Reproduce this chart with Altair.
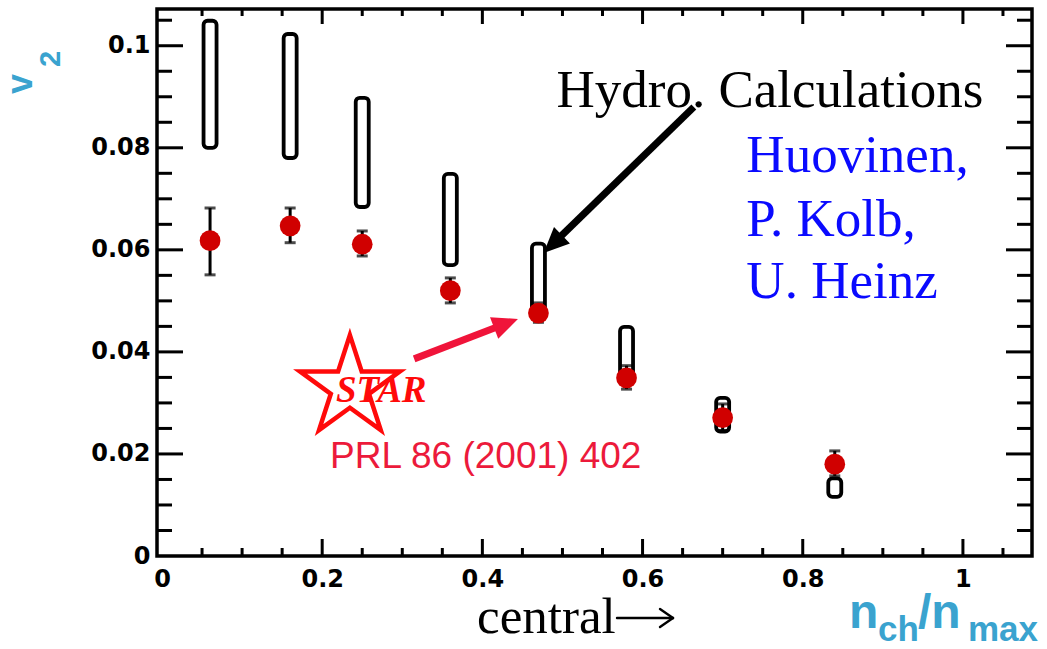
import altair as alt
import pandas as pd

# ---- data ----
centrality = [0.06, 0.16, 0.25, 0.36, 0.47, 0.58, 0.70, 0.84]
v2_star = [0.0618, 0.0647, 0.0611, 0.0520, 0.0476, 0.0349, 0.0271, 0.0180]
v2_err_lo = [0.0551, 0.0614, 0.0588, 0.0496, 0.0458, 0.0327, 0.0246, 0.0157]
v2_err_hi = [0.0682, 0.0682, 0.0637, 0.0545, 0.0496, 0.0373, 0.0298, 0.0206]
hydro_lo = [0.0800, 0.0780, 0.0684, 0.0570, 0.0465, 0.0345, 0.0244, 0.0116]
hydro_hi = [0.1049, 0.1023, 0.0898, 0.0749, 0.0612, 0.0449, 0.0310, 0.0152]

x_major = [0.2, 0.4, 0.6, 0.8, 1.0]
x_minor = [0.05, 0.1, 0.15, 0.25, 0.3, 0.35, 0.45, 0.5, 0.55, 0.65, 0.7, 0.75,
           0.85, 0.9, 0.95, 1.05]
y_major = [0.02, 0.04, 0.06, 0.08, 0.1]
y_minor = [0.005, 0.01, 0.015, 0.025, 0.03, 0.035, 0.045, 0.05, 0.055, 0.065,
           0.07, 0.075, 0.085, 0.09, 0.095, 0.105]
x_labels = [0, 0.2, 0.4, 0.6, 0.8, 1.0]
y_labels = [0, 0.02, 0.04, 0.06, 0.08, 0.1]

W, H = 875, 547
XD = [0, 1.08]
YD = [0, 0.1072]

df = pd.DataFrame({"x": centrality, "v2": v2_star, "lo": v2_err_lo, "hi": v2_err_hi,
                   "hlo": hydro_lo, "hhi": hydro_hi})

xs = alt.Scale(domain=XD, nice=False, zero=False)
ys = alt.Scale(domain=YD, nice=False, zero=False)
X = alt.X("x:Q", scale=xs, axis=alt.Axis(values=x_labels, format=".1~f", domain=False, ticks=False,
                                            grid=False, title=None, labelFont="DejaVu Sans",
                                            labelFontWeight="bold", labelFontSize=24, labelColor="black",
                                            labelPadding=11, labelFlush=False))
Y = alt.Y("v2:Q", scale=ys, axis=alt.Axis(values=y_labels, format=".2~f", domain=False, ticks=False,
                                             grid=False, title=None, labelFont="DejaVu Sans",
                                             labelFontWeight="bold", labelFontSize=24, labelColor="black",
                                             labelPadding=7, labelFlush=False))

base = alt.Chart(df)

boxes = base.mark_bar(size=13, cornerRadius=4, fill="white", stroke="black", strokeWidth=3.8).encode(
    x=X, y=alt.Y("hlo:Q", scale=ys), y2="hhi:Q")
err = base.mark_rule(color="black", strokeWidth=3).encode(
    x=alt.X("x:Q", scale=xs), y=alt.Y("lo:Q", scale=ys), y2="hi:Q")
cap_lo = base.mark_tick(orient="horizontal", size=11, thickness=3, color="black").encode(
    x=alt.X("x:Q", scale=xs), y=alt.Y("lo:Q", scale=ys))
cap_hi = base.mark_tick(orient="horizontal", size=11, thickness=3, color="black").encode(
    x=alt.X("x:Q", scale=xs), y=alt.Y("hi:Q", scale=ys))
dots = base.mark_point(filled=True, size=430, color="#d00000", opacity=1, shape="circle").encode(
    x=alt.X("x:Q", scale=xs), y=Y)

# ---- axis ticks drawn inward ----
def yticks(vals, length):
    d = pd.DataFrame({"t": vals})
    left = alt.Chart(d).mark_rule(color="black", strokeWidth=3).encode(
        y=alt.Y("t:Q", scale=ys), x=alt.value(0), x2=alt.value(length))
    right = alt.Chart(d).mark_rule(color="black", strokeWidth=3).encode(
        y=alt.Y("t:Q", scale=ys), x=alt.value(W), x2=alt.value(W - length))
    return left + right

def xticks(vals, lb, lt):
    d = pd.DataFrame({"t": vals})
    bot = alt.Chart(d).mark_rule(color="black", strokeWidth=3).encode(
        x=alt.X("t:Q", scale=xs), y=alt.value(H), y2=alt.value(H - lb))
    top = alt.Chart(d).mark_rule(color="black", strokeWidth=3).encode(
        x=alt.X("t:Q", scale=xs), y=alt.value(0), y2=alt.value(lt))
    return bot + top

ticks = yticks(y_major, 26) + yticks(y_minor, 15) + xticks(x_major, 17, 15) + xticks(x_minor, 8, 7)

# ---- annotations ----
def txt(x, y, s, **kw):
    return alt.Chart(pd.DataFrame({"x": [x], "y": [y], "s": [s]})).mark_text(**kw).encode(
        x=alt.X("x:Q", scale=xs), y=alt.Y("y:Q", scale=ys), text="s:N")

serif = "Liberation Serif"
blue = "#0a0aff"
hydro_t = txt(0.4926, 0.0880, "Hydro. Calculations", font=serif, fontSize=53, color="black",
              align="left", baseline="alphabetic")
auth1 = txt(0.7296, 0.0753, "Huovinen,", font=serif, fontSize=53, color=blue, align="left", baseline="alphabetic")
auth2 = txt(0.7296, 0.0628, "P. Kolb,", font=serif, fontSize=53, color=blue, align="left", baseline="alphabetic")
auth3 = txt(0.7296, 0.0505, "U. Heinz", font=serif, fontSize=53, color=blue, align="left", baseline="alphabetic")
prl = txt(0.2099, 0.01725, "PRL 86 (2001) 402", font="Liberation Sans", fontSize=37, color="#ec1a3b",
          align="left", baseline="alphabetic")
star_t = txt(0.2173, 0.0302, "STAR", font=serif, fontSize=37, fontStyle="italic", fontWeight="bold",
             color="#ff0a0a", align="left", baseline="alphabetic")

STAR_PATH = ("M0,-1 L0.2245,-0.309 L0.9511,-0.309 L0.3633,0.118 L0.5878,0.809 L0,0.382 "
             "L-0.5878,0.809 L-0.3633,0.118 L-0.9511,-0.309 L-0.2245,-0.309 Z")
star = alt.Chart(pd.DataFrame({"x": [0.2346], "y": [0.0330]})).mark_point(
    shape=STAR_PATH, size=11025, filled=False, stroke="#ff0a0a", strokeWidth=4.5, opacity=1).encode(
    x=alt.X("x:Q", scale=xs), y=alt.Y("y:Q", scale=ys))

HEAD = "M0,0 L0.45,1 L-0.45,1 Z"

def arrow(x1, y1, xb, yb, xt, yt, ang, color):
    line = alt.Chart(pd.DataFrame({"x": [x1], "y": [y1], "x2": [xb], "y2": [yb]})).mark_rule(
        color=color, strokeWidth=7).encode(
        x=alt.X("x:Q", scale=xs), y=alt.Y("y:Q", scale=ys), x2="x2:Q", y2="y2:Q")
    head = alt.Chart(pd.DataFrame({"x": [xt], "y": [yt]})).mark_point(
        shape=HEAD, size=2600, filled=True, color=color, opacity=1, angle=ang, strokeWidth=0).encode(
        x=alt.X("x:Q", scale=xs), y=alt.Y("y:Q", scale=ys))
    return line + head

black_arrow = arrow(0.664, 0.0880, 0.4943, 0.0621, 0.4765, 0.0594, 226, "black")
red_arrow = arrow(0.3148, 0.03863, 0.4191, 0.04494, 0.4444, 0.04647, 69, "#f0143a")

# ---- axis titles as text outside the plot area ----
def ptxt(x, y, s, **kw):
    return alt.Chart(pd.DataFrame({"s": [s]})).mark_text(**kw).encode(
        x=alt.value(x), y=alt.value(y), text="s:N")

def pline(x1, y1, x2, y2, w=2.4):
    return alt.Chart(pd.DataFrame({"s": [0]})).mark_rule(color="black", strokeWidth=w, strokeCap="round").encode(
        x=alt.value(x1 - 157), y=alt.value(y1 - 9), x2=alt.value(x2 - 157), y2=alt.value(y2 - 9))

cyan = "#3aa3cf"
t_v = ptxt(32 - 157, 94 - 9, "v", font="Liberation Sans", fontWeight="bold", fontSize=36, color=cyan,
           angle=270, align="left", baseline="alphabetic")
t_2 = ptxt(60 - 157, 67 - 9, "2", font="Liberation Sans", fontWeight="bold", fontSize=29, color=cyan,
           angle=270, align="left", baseline="alphabetic")
central = ptxt(477 - 157, 633 - 9, "central", font=serif, fontSize=51, color="black",
               align="left", baseline="alphabetic")
c_arrow = pline(617, 618, 673, 618) + pline(673, 618, 660, 609) + pline(673, 618, 660, 627)
n1 = ptxt(849 - 157, 628 - 9, "n", font="Liberation Sans", fontWeight="bold", fontSize=48, color=cyan,
          align="left", baseline="alphabetic")
ch = ptxt(878 - 157, 641 - 9, "ch", font="Liberation Sans", fontWeight="bold", fontSize=35, color=cyan,
          align="left", baseline="alphabetic")
n2 = ptxt(918 - 157, 628 - 9, "/n", font="Liberation Sans", fontWeight="bold", fontSize=48, color=cyan,
          align="left", baseline="alphabetic")
mx = ptxt(968 - 157, 641 - 9, "max", font="Liberation Sans", fontWeight="bold", fontSize=35, color=cyan,
          align="left", baseline="alphabetic")

chart = alt.layer(
    ticks, boxes, err, cap_lo, cap_hi, dots,
    black_arrow, red_arrow, star, star_t, prl, hydro_t, auth1, auth2, auth3,
    t_v, t_2, central, c_arrow, n1, ch, n2, mx,
).properties(
    width=W, height=H,
    autosize=alt.AutoSizeParams(type="none"),
    padding={"left": 157, "top": 9, "right": 15, "bottom": 93},
    background="white",
).configure_view(stroke="black", strokeWidth=3.5)

chart.save("out.html", embed_options={"renderer": "svg", "actions": False})
